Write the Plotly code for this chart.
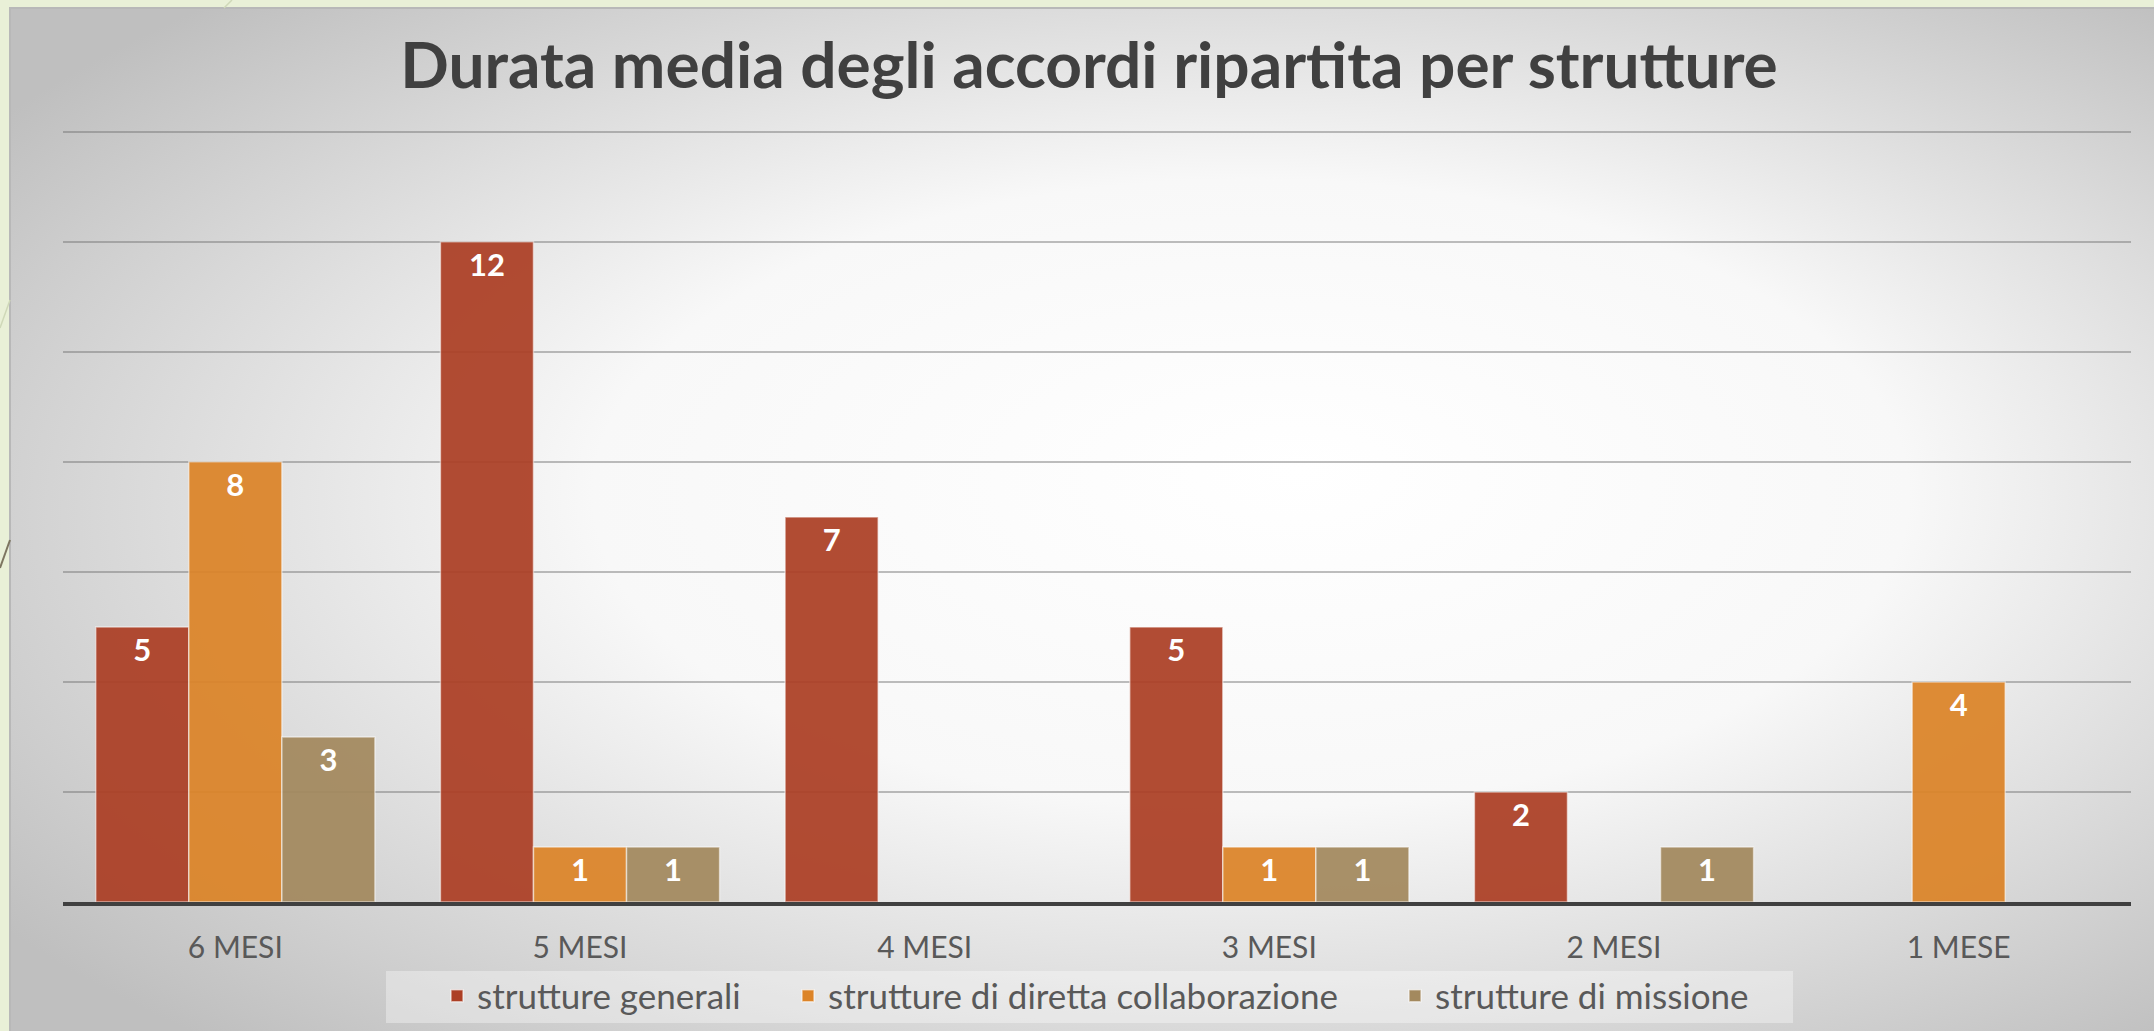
import plotly.graph_objects as go
import urllib.parse

# ---- data ----
categories = ["6 MESI", "5 MESI", "4 MESI", "3 MESI", "2 MESI", "1 MESE"]
series_names = ["strutture generali", "strutture di diretta collaborazione", "strutture di missione"]
generali = [5, 12, 7, 5, 2, None]
diretta = [8, 1, None, 1, None, 4]
missione = [3, 1, None, 1, 1, None]
title_text = "Durata media degli accordi ripartita per strutture"

colors = ["#AC3F25", "#DC8428", "#A3895E"]
series_values = [generali, diretta, missione]

W, H = 2154, 1031
ML, MR, MT, MB = 63, 23, 129, 129
PW, PH = W - ML - MR, H - MT - MB


def px_to_paper_x(px):
    return (px - ML) / PW


def px_to_paper_y(py):
    return (H - MB - py) / PH


legend_ids = ["legend", "legend2", "legend3"]
legend_text_start = [477, 828, 1435]

fig = go.Figure()
for name, vals, col, lid in zip(series_names, series_values, colors, legend_ids):
    fig.add_trace(go.Bar(
        x=categories, y=vals, name=name, legend=lid,
        marker=dict(color=col, opacity=0.93, line=dict(color="rgba(255,255,255,0.55)", width=1.5)),
        texttemplate="%{y}", textposition="inside", insidetextanchor="end",
        textfont=dict(family="Lato", size=31, color="white", weight="bold"),
        textangle=0, cliponaxis=False,
    ))

# background gradient box (SVG radial gradient)
svg = (
    '<svg xmlns="http://www.w3.org/2000/svg" width="400" height="200" viewBox="0 0 400 200" preserveAspectRatio="none">'
    '<defs><radialGradient id="g" cx="0.55" cy="0.5" r="0.68" fx="0.6" fy="0.45">'
    '<stop offset="0" stop-color="#ffffff"/>'
    '<stop offset="0.45" stop-color="#f8f8f8"/>'
    '<stop offset="1" stop-color="#bfbfbf"/>'
    '</radialGradient></defs>'
    '<rect x="0" y="0" width="400" height="200" fill="url(#g)"/></svg>'
)
src = "data:image/svg+xml;charset=utf-8," + urllib.parse.quote(svg)
bx0, by0, bx1, by1 = px_to_paper_x(10), px_to_paper_y(8), px_to_paper_x(W + 5), px_to_paper_y(H + 5)
fig.add_layout_image(dict(source=src, xref="paper", yref="paper", x=bx0, y=by0,
                          sizex=bx1 - bx0, sizey=by0 - by1, sizing="stretch",
                          xanchor="left", yanchor="top", layer="below"))

shapes = [
    dict(type="rect", xref="paper", yref="paper", x0=bx0, y0=by1, x1=bx1, y1=by0,
         line=dict(color="#b8b8b8", width=2), fillcolor="rgba(0,0,0,0)", layer="below"),
    # legend background box
    dict(type="rect", xref="paper", yref="paper", x0=px_to_paper_x(386), y0=px_to_paper_y(1023),
         x1=px_to_paper_x(1793), y1=px_to_paper_y(971),
         line=dict(width=0), fillcolor="rgba(255,255,255,0.35)", layer="below"),
    dict(type="line", xref="paper", yref="paper", x0=px_to_paper_x(232), y0=px_to_paper_y(0),
         x1=px_to_paper_x(224), y1=px_to_paper_y(8), line=dict(color="#cfd8b8", width=1.5)),
    dict(type="line", xref="paper", yref="paper", x0=px_to_paper_x(10), y0=px_to_paper_y(300),
         x1=px_to_paper_x(0), y1=px_to_paper_y(328), line=dict(color="#cfd8b8", width=1.5)),
    dict(type="line", xref="paper", yref="paper", x0=px_to_paper_x(10), y0=px_to_paper_y(540),
         x1=px_to_paper_x(0), y1=px_to_paper_y(568), line=dict(color="#7d7560", width=2)),
]

legend_font = dict(family="Lato", size=35, color="#595959")
legends = {}
for lid, ts in zip(legend_ids, legend_text_start):
    legends[lid] = dict(orientation="h", xanchor="left", x=px_to_paper_x(ts - 40),
                        yanchor="middle", y=px_to_paper_y(996),
                        bgcolor="rgba(0,0,0,0)", borderwidth=0, font=legend_font)

fig.update_layout(
    width=W, height=H,
    margin=dict(l=ML, r=MR, t=MT, b=MB, autoexpand=False),
    paper_bgcolor="#E9F0D7",
    plot_bgcolor="rgba(0,0,0,0)",
    barmode="group", bargap=0.19, bargroupgap=0,
    shapes=shapes,
    title=dict(text=title_text, xref="container", x=1089 / W, xanchor="center",
               yref="container", y=1 - 66 / H, yanchor="middle",
               font=dict(family="Lato", size=64, color="#404040", weight="bold")),
    xaxis=dict(showline=True, linecolor="#404040", linewidth=4, ticks="",
               tickfont=dict(family="Lato", size=30, color="#595959"),
               ticklabelstandoff=16, automargin=False,
               showgrid=False, fixedrange=True),
    yaxis=dict(range=[0, 14.05], dtick=2, showticklabels=False, ticks="",
               showgrid=True, gridcolor="rgba(110,110,110,0.45)", gridwidth=1.5,
               zeroline=False, fixedrange=True, automargin=False),
    showlegend=True,
    **legends,
)

fig.write_html("out.html", config={"displayModeBar": False},
               post_script="document.body.style.margin='0';document.body.style.overflow='hidden';")
